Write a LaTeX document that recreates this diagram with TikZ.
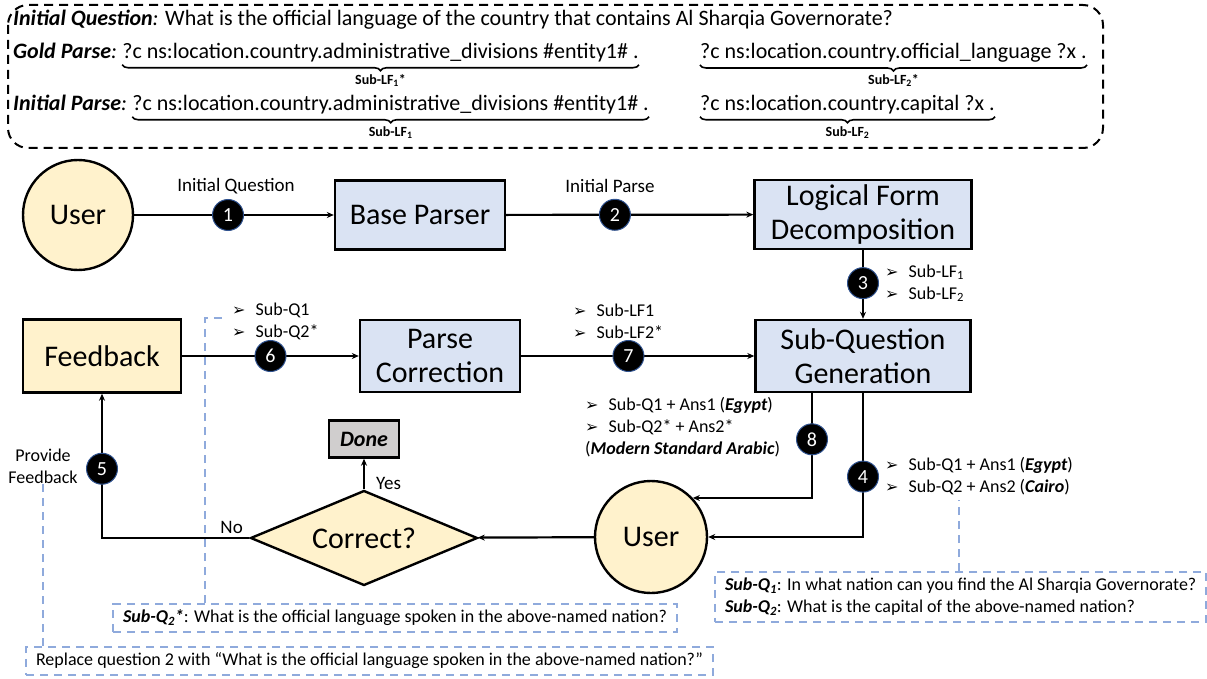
\documentclass[tikz,border=0pt]{standalone}
\usepackage{fontspec}
\setmainfont{Carlito}
\newfontfamily\symfont{DejaVu Sans}
\usetikzlibrary{positioning,shapes.geometric,arrows.meta,decorations.pathreplacing}

\definecolor{userfill}{HTML}{FFF2CC}
\definecolor{procfill}{HTML}{DAE3F3}
\definecolor{donefill}{HTML}{D0CECE}
\definecolor{calloutblue}{HTML}{8FAADC}
\definecolor{numedge}{HTML}{2F528F}

\newcommand{\boxfont}{\fontsize{30}{34}\selectfont}
\newcommand{\lblfont}{\fontsize{19}{22}\selectfont}
\newcommand{\bulfont}{\fontsize{18}{22}\selectfont}
\newcommand{\topfont}{\fontsize{22}{26}\selectfont}
\newcommand{\subfont}{\fontsize{14}{16}\selectfont\bfseries}
\newcommand{\bul}{{\symfont\fontsize{16}{16}\selectfont ➢}\hspace{10pt}}

\begin{document}
\begin{tikzpicture}[x=1pt,y=-1pt,
  proc/.style={draw, line width=2.4pt, fill=procfill, font=\boxfont, align=center, inner sep=0pt},
  fbk/.style={proc, fill=userfill},
  userc/.style={circle, draw, line width=2.4pt, fill=userfill, font=\boxfont, minimum size=110pt, inner sep=0pt},
  check/.style={diamond, draw, line width=2.4pt, fill=userfill, font=\boxfont, aspect=2.4, minimum width=227pt, minimum height=95pt, inner sep=0pt},
  donebox/.style={draw, line width=2.4pt, fill=donefill, font=\fontsize{22}{26}\selectfont, minimum width=70pt, minimum height=37pt, inner sep=0pt},
  num/.style={circle, fill=black, draw=numedge, line width=1pt, minimum size=31pt, inner sep=0pt, text=white, font=\fontsize{20}{22}\selectfont},
  lbl/.style={font=\lblfont, inner sep=0pt},
  bullets/.style={font=\bulfont, align=left, inner sep=0pt},
  arr/.style={line width=2.2pt, -{Stealth[length=7pt,width=6pt]}},
  toptxt/.style={font=\topfont, anchor=base west, inner sep=0pt},
  brc/.style={decorate, decoration={brace, mirror, amplitude=6pt}, line width=1.6pt},
  sublbl/.style={font=\subfont, inner sep=0pt},
  callout/.style={draw=calloutblue, line width=2pt, dash pattern=on 8pt off 6pt, font=\bulfont, inner xsep=10pt, inner ysep=6pt},
  calloutline/.style={draw=calloutblue, line width=2pt, dash pattern=on 8pt off 6pt}]
\useasboundingbox (0,0) rectangle (1207,679);

% question and parses
\draw[line width=2pt, dash pattern=on 9pt off 6pt, rounded corners=20pt] (8,5) rectangle (1103,148);
\node[toptxt] (iq) at (13,26) {\textbf{\textit{Initial Question}}\textit{:} What is the official language of the country that contains Al Sharqia Governorate?};
\node[toptxt] (gold) at (13,59) {\textbf{\textit{Gold Parse}}\textit{:}};
\node[toptxt, base right=5pt of gold] (lf1gold) {?c ns:location.country.administrative\_divisions \#entity1\# .};
\node[toptxt] (lf2gold) at (700,59) {?c ns:location.country.official\_language ?x .};
\node[toptxt] (init) at (13,111) {\textbf{\textit{Initial Parse}}\textit{:}};
\node[toptxt, base right=5pt of init] (lf1init) {?c ns:location.country.administrative\_divisions \#entity1\# .};
\node[toptxt] (lf2init) at (700,111) {?c ns:location.country.capital ?x .};
\draw[brc] ([yshift=-2pt]lf1gold.south west) -- ([yshift=-2pt]lf1gold.south east) node[sublbl, midway, below=9pt] (sublf1gold) {Sub-LF\textsubscript{1}*};
\draw[brc] ([yshift=-2pt]lf2gold.south west) -- ([yshift=-2pt]lf2gold.south east) node[sublbl, midway, below=9pt] (sublf2gold) {Sub-LF\textsubscript{2}*};
\draw[brc] ([yshift=-2pt]lf1init.south west) -- ([yshift=-2pt]lf1init.south east) node[sublbl, midway, below=9pt] (sublf1init) {Sub-LF\textsubscript{1}};
\draw[brc] ([yshift=-2pt]lf2init.south west) -- ([yshift=-2pt]lf2init.south east) node[sublbl, midway, below=9pt] (sublf2init) {Sub-LF\textsubscript{2}};

% pipeline
\node[userc] (user) at (78,215) {User};
\node[proc, minimum width=170pt, minimum height=69pt] (base) at (420,215) {Base Parser};
\node[proc, minimum width=217pt, minimum height=69pt] (lfd) at (863,214.5) {Logical Form\\Decomposition};
\node[proc, minimum width=215pt, minimum height=72pt] (sqg) at (863,356) {Sub-Question\\Generation};
\node[proc, minimum width=160pt, minimum height=72pt] (pc) at (440,356) {Parse\\Correction};
\node[fbk, minimum width=158pt, minimum height=73pt] (fb) at (102,356) {Feedback};
\node[userc, minimum size=112pt] (user2) at (651,537) {User};
\node[check] (chk) at (364,538) {Correct?};
\node[donebox] (done) at (364,439) {\textbf{\textit{Done}}};

\draw[arr] (user) -- node[num, pos=0.47] (n1) {1} (base);
\node[lbl] (iqlbl) at (236,186) {Initial Question};
\draw[arr] (base) -- node[num, pos=0.44] (n2) {2} (lfd);
\node[lbl] (iplbl) at (610,186) {Initial Parse};
\draw[arr] (lfd) -- node[num, pos=0.48] (n3) {3} (sqg);
\node[bullets, right=6pt of n3] (b3) {\bul Sub-LF\textsubscript{1}\\\bul Sub-LF\textsubscript{2}};
\draw[arr] (fb) -- node[num, pos=0.5] (n6) {6} (pc);
\node[bullets, anchor=south west] (b6) at (232,340) {\bul Sub-Q1\\\bul Sub-Q2*};
\draw[arr] (pc) -- node[num, pos=0.46] (n7) {7} (sqg);
\node[bullets, anchor=south west] (b7) at (573,339) {\bul Sub-LF1\\\bul Sub-LF2*};
\draw[arr] ([xshift=-51pt]sqg.south) |- node[num, pos=0.22] (n8) {8} (user2.43);
\node[bullets, anchor=north west] (b8) at (585,397) {\bul Sub-Q1 + Ans1 (\textbf{\textit{Egypt}})\\\bul Sub-Q2* + Ans2*\\(\textbf{\textit{Modern Standard Arabic}})};
\draw[arr] (sqg.south) |- node[num, pos=0.29] (n4) {4} (user2.east);
\node[bullets, right=6pt of n4] (b4) {\bul Sub-Q1 + Ans1 (\textbf{\textit{Egypt}})\\\bul Sub-Q2 + Ans2 (\textbf{\textit{Cairo}})};
\draw[arr] (user2) -- (chk);
\draw[arr] (chk) -- (done);
\node[lbl, anchor=west] (yes) at (376,483) {Yes};
\draw[arr] (chk.west) -| node[num, pos=0.74] (n5) {5} node[lbl, pos=0.06, above=3pt] (no) {No} (fb.south);
\node[bullets, align=center] (provide) at (43,466) {Provide\\Feedback};

% callouts
\node[callout, anchor=west] (q2star) at (112,618) {\textbf{\textit{Sub-Q\textsubscript{2}*}}: What is the official language spoken in the above-named nation?};
\coordinate (q2bend) at (205,318);
\coordinate (q2tip) at (224,318);
\draw[calloutline] (q2star.north -| q2bend) -- (q2bend) -- (q2tip);
\node[callout, anchor=west] (replace) at (25,661) {Replace question 2 with “What is the official language spoken in the above-named nation?”};
\coordinate (replacetip) at (43,484);
\draw[calloutline] (replace.north -| replacetip) -- (replacetip);
\node[callout, anchor=north west, align=left] (subqs) at (714,571) {\textbf{\textit{Sub-Q\textsubscript{1}}}: In what nation can you find the Al Sharqia Governorate?\\\textbf{\textit{Sub-Q\textsubscript{2}}}: What is the capital of the above-named nation?};
\coordinate (subqtip) at (959,500);
\draw[calloutline] (subqs.north -| subqtip) -- (subqtip);
\end{tikzpicture}
\end{document}
